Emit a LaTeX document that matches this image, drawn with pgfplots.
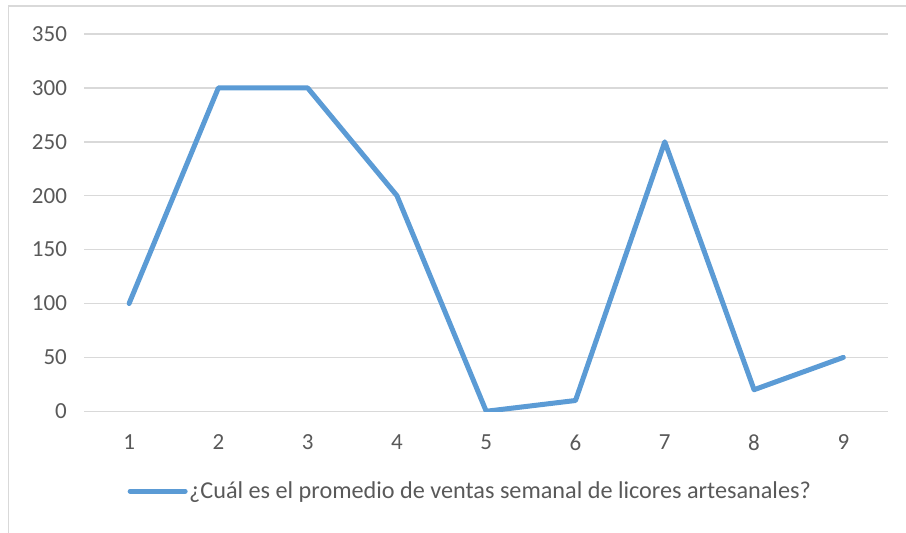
\documentclass[border=0pt]{standalone}
\usepackage{fontspec}
\setmainfont{Carlito}
\usepackage{pgfplots}
\pgfplotsset{compat=1.18}
\definecolor{linecol}{HTML}{5B9BD5}
\definecolor{gridcol}{HTML}{D9D9D9}
\definecolor{txtcol}{HTML}{595959}
\begin{document}
\begin{tikzpicture}
\begin{axis}[
    scale only axis,
    width=803pt, height=377pt,
    xmin=0.5, xmax=9.5,
    ymin=0, ymax=350,
    xtick={1,...,9},
    ytick={0,50,...,350},
    major tick length=0pt,
    axis line style={draw=none},
    ymajorgrids,
    grid style={gridcol, line width=1.5pt},
    tick label style={font=\fontsize{23}{27}\selectfont, text=txtcol},
    /pgf/number format/assume math mode=true,
    yticklabel style={xshift=-14pt},
    xticklabel style={yshift=-20pt},
    legend image code/.code={\draw[#1, line width=5pt, line cap=round] (0pt,0pt) -- (55pt,0pt);},
    legend style={draw=none, fill=none, inner sep=0pt,
        at={(axis description cs:0.0535,-0.212)}, anchor=west,
        font=\fontsize{24.2}{28}\selectfont, text=txtcol,
        nodes={inner sep=1.5pt}},
]
\addplot[linecol, line width=5pt, line join=round, line cap=round] coordinates {
  (1,100) (2,300) (3,300) (4,200) (5,0) (6,10) (7,250) (8,20) (9,50)
};
\addlegendentry{¿Cuál es el promedio de ventas semanal de licores artesanales?}
\end{axis}
% outer chart frame: only top and left edges fall inside the picture
\draw[gridcol, line width=1.5pt]
    ([xshift=20pt, yshift=28pt]current axis.north east) --
    ([xshift=-76pt, yshift=28pt]current axis.north west) --
    ([xshift=-76pt, yshift=-125pt]current axis.south west);
\pgfresetboundingbox
\path ([xshift=-84.4pt, yshift=-121pt]current axis.south west) rectangle
      ([xshift=18pt, yshift=34pt]current axis.north east);
\end{tikzpicture}
\end{document}
